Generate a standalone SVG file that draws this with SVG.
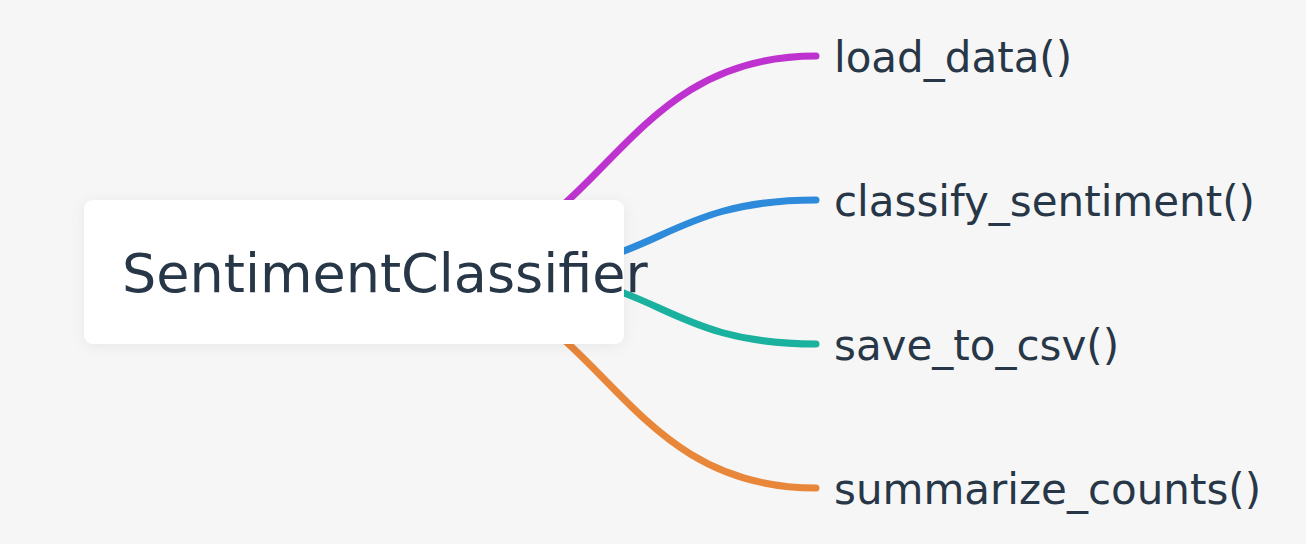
<svg xmlns="http://www.w3.org/2000/svg" width="1306" height="544" viewBox="0 0 1306 544">
  <style>
    .link { fill: none; stroke-width: 7; stroke-linecap: round; }
    .label { font-family: "DejaVu Sans", sans-serif; font-size: 42px; fill: #273747; }
    .title { font-family: "DejaVu Sans", sans-serif; font-size: 54px; fill: #273747; }
  </style>
  <defs>
    <filter id="soft-shadow" x="-10%" y="-20%" width="120%" height="140%">
      <feDropShadow dx="0" dy="2" stdDeviation="7" flood-color="#000" flood-opacity="0.06"/>
    </filter>
  </defs>

  <rect width="1306" height="544" fill="#f6f6f6"/>

  <!-- branches from the root to each method -->
  <g id="connectors">
    <path class="link" stroke="#be33cf" d="M394 272 C605 272 605 56 816 56"/>
    <path class="link" stroke="#2e8bdc" d="M502 272 C659 272 659 200 816 200"/>
    <path class="link" stroke="#1bb19f" d="M502 272 C659 272 659 344 816 344"/>
    <path class="link" stroke="#e8863a" d="M394 272 C605 272 605 488 816 488"/>
  </g>

  <g id="root">
    <rect x="84" y="200" width="540" height="144" rx="9" fill="#ffffff" filter="url(#soft-shadow)"/>
    <text class="title" x="122" y="292">SentimentClassifier</text>
  </g>

  <g id="load_data">
    <text class="label" x="834" y="72">load_data()</text>
  </g>
  <g id="classify_sentiment">
    <text class="label" x="834" y="216">classify_sentiment()</text>
  </g>
  <g id="save_to_csv">
    <text class="label" x="834" y="360">save_to_csv()</text>
  </g>
  <g id="summarize_counts">
    <text class="label" x="834" y="504">summarize_counts()</text>
  </g>
</svg>
